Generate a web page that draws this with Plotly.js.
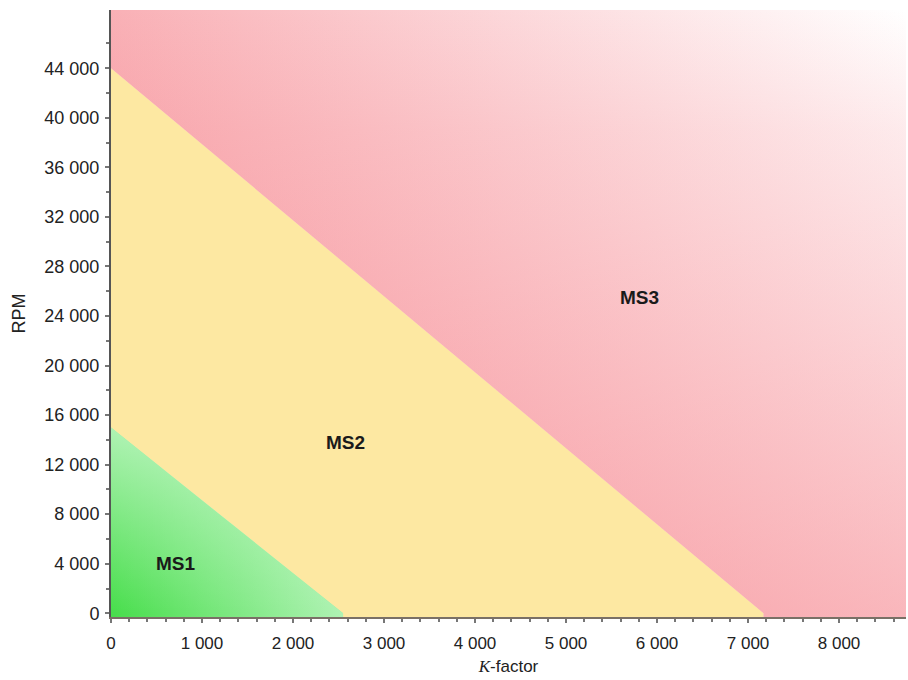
<!DOCTYPE html>
<html><head><meta charset="utf-8">
<script src="https://cdn.plot.ly/plotly-3.0.1.min.js"></script>
<style>html,body{margin:0;padding:0;background:#fff}#chart{width:908px;height:680px}</style>
</head><body><div id="chart"></div>
<script>
// Zone boundaries (K-factor vs RPM)
const ms1BoundaryK = [0, 2550];
const ms1BoundaryRPM = [15000, 0];
const ms2BoundaryK = [0, 7170];
const ms2BoundaryRPM = [44000, 0];

// Zone labels
const zoneLabels = ['MS1', 'MS2', 'MS3'];
const zoneLabelK = [710, 2580, 5810];
const zoneLabelRPM = [4050, 13800, 25500];

// Ticks
const xTickVals = [0, 1000, 2000, 3000, 4000, 5000, 6000, 7000, 8000];
const xTickText = ['0', '1 000', '2 000', '3 000', '4 000', '5 000', '6 000', '7 000', '8 000'];
const yTickVals = [0, 4000, 8000, 12000, 16000, 20000, 24000, 28000, 32000, 36000, 40000, 44000];
const yTickText = ['0', '4 000', '8 000', '12 000', '16 000', '20 000', '24 000', '28 000', '32 000', '36 000', '40 000', '44 000'];
const yMinorVals = [2000, 6000, 10000, 14000, 18000, 22000, 26000, 30000, 34000, 38000, 42000, 46000];

// Axis ranges
const K_MIN = 0, K_MAX = 8736;
const RPM_MIN = -300, RPM_MAX = 48700;

// Region polygons built from the boundaries
const greenK = [ms1BoundaryK[0], ms1BoundaryK[0], ms1BoundaryK[1], ms1BoundaryK[1]];
const greenR = [RPM_MIN, ms1BoundaryRPM[0], ms1BoundaryRPM[1], RPM_MIN];
const yellowK = [ms1BoundaryK[0], ms2BoundaryK[0], ms2BoundaryK[1], ms2BoundaryK[1], ms1BoundaryK[1], ms1BoundaryK[1]];
const yellowR = [ms1BoundaryRPM[0], ms2BoundaryRPM[0], ms2BoundaryRPM[1], RPM_MIN, RPM_MIN, ms1BoundaryRPM[1]];
const redK = [ms2BoundaryK[0], ms2BoundaryK[1], ms2BoundaryK[1], K_MAX, K_MAX, K_MIN];
const redR = [ms2BoundaryRPM[0], ms2BoundaryRPM[1], RPM_MIN, RPM_MIN, RPM_MAX, RPM_MAX];

function region(x, y, fill, grad) {
  const t = {x: x, y: y, type: 'scatter', mode: 'none', fill: 'toself',
    hoverinfo: 'skip', showlegend: false};
  if (grad) t.fillgradient = grad; else t.fillcolor = fill;
  return t;
}
const lightA = 'rgba(238,255,242,0)', lightZ = 'rgba(238,255,242,0.62)';

const traces = [
  region(yellowK, yellowR, '#fde8a2'),
  region(redK, redR, null, {type: 'horizontal', start: 0, stop: K_MAX,
    colorscale: [[0, 'rgba(242,84,96,0.46)'], [1, 'rgba(242,84,96,0)']]}),
  region(redK, redR, null, {type: 'vertical', start: 0, stop: RPM_MAX,
    colorscale: [[0, 'rgba(242,84,96,0.42)'], [0.8, 'rgba(242,84,96,0.12)'], [1, 'rgba(242,84,96,0)']]}),
  region(greenK, greenR, 'rgb(72,222,76)'),
  region(greenK, greenR, null, {type: 'horizontal', start: 0, stop: ms1BoundaryK[1], colorscale: [[0, lightA], [1, lightZ]]}),
  region(greenK, greenR, null, {type: 'vertical', start: 0, stop: ms1BoundaryRPM[0], colorscale: [[0, lightA], [1, lightZ]]})
];

const annotations = zoneLabels.map((t, i) => ({
  x: zoneLabelK[i], y: zoneLabelRPM[i], xref: 'x', yref: 'y', text: '<b>' + t + '</b>',
  showarrow: false, font: {family: 'Liberation Sans, Arial, sans-serif', size: 19, color: '#1a1a1a'}
}));

const layout = {
  width: 908, height: 680,
  margin: {l: 111, r: 2, t: 10, b: 63},
  paper_bgcolor: '#ffffff', plot_bgcolor: '#ffffff',
  font: {family: 'Liberation Sans, Arial, sans-serif', color: '#222'},
  xaxis: {
    range: [K_MIN, K_MAX], tickmode: 'array', tickvals: xTickVals, ticktext: xTickText,
    showgrid: false, zeroline: false, showline: true, linecolor: '#7a7066', linewidth: 2,
    ticks: 'outside', ticklen: 4, tickwidth: 2, tickcolor: '#777', ticklabelstandoff: 6,
    minor: {tickmode: 'linear', dtick: 200, tick0: 0, ticks: 'outside', ticklen: 3, tickwidth: 2, tickcolor: '#777', showgrid: false},
    tickfont: {size: 17, color: '#222'},
    title: {text: '<span style="font-family:\'Liberation Serif\'"><i>K</i></span>-factor', font: {size: 17, color: '#222'}, standoff: 8}
  },
  yaxis: {
    range: [RPM_MIN, RPM_MAX], tickmode: 'array', tickvals: yTickVals, ticktext: yTickText,
    showgrid: false, zeroline: false, showline: true, linecolor: '#555', linewidth: 2,
    ticks: 'outside', ticklen: 4, tickwidth: 2, tickcolor: '#777', ticklabelstandoff: 2,
    minor: {tickmode: 'array', tickvals: yMinorVals, ticks: 'outside', ticklen: 3, tickwidth: 2, tickcolor: '#777', showgrid: false},
    tickfont: {size: 18, color: '#222'},
    title: {text: 'RPM', font: {size: 18, color: '#222'}, standoff: 14}
  },
  annotations: annotations
};

Plotly.newPlot('chart', traces, layout, {displayModeBar: false, staticPlot: true});
</script>
</body></html>
